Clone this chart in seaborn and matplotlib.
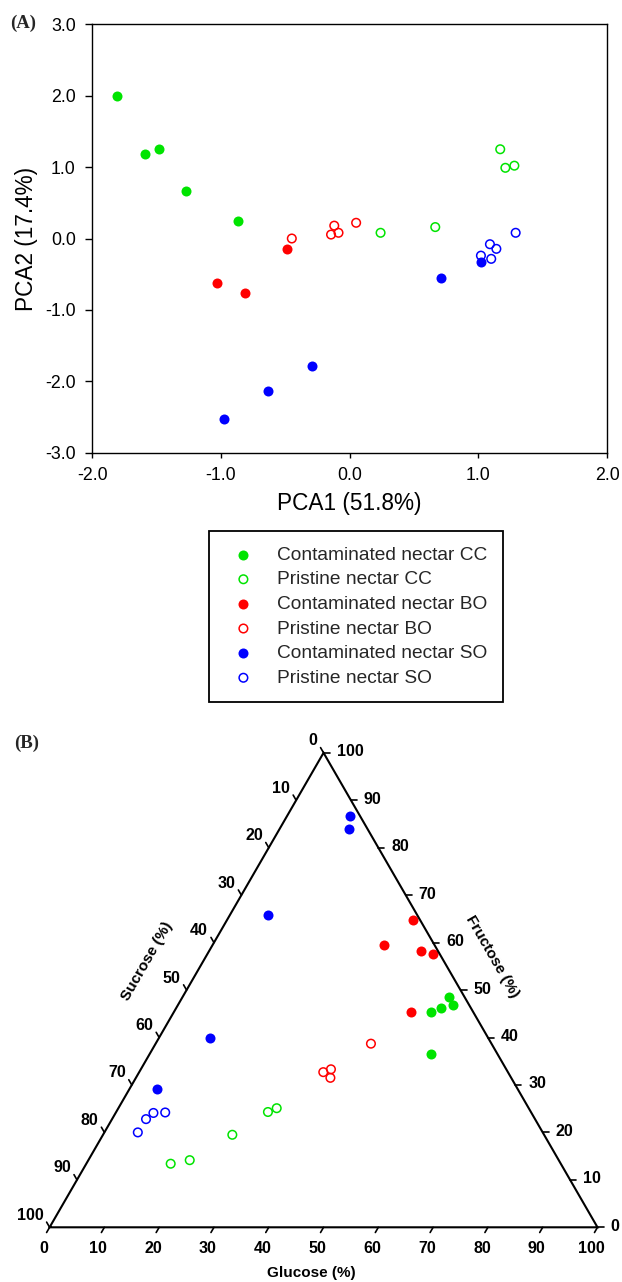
import numpy as np
import matplotlib
matplotlib.use("Agg")
import matplotlib.pyplot as plt
import seaborn as sns

# ---------------- (A) PCA scores ----------------
cc_contam_pc1 = [-1.81, -1.59, -1.48, -1.275, -0.865]
cc_contam_pc2 = [2.00, 1.19, 1.25, 0.67, 0.24]
cc_pristine_pc1 = [0.24, 0.665, 1.17, 1.21, 1.28]
cc_pristine_pc2 = [0.08, 0.16, 1.25, 0.99, 1.02]
bo_contam_pc1 = [-1.03, -0.81, -0.49]
bo_contam_pc2 = [-0.62, -0.77, -0.145]
bo_pristine_pc1 = [-0.45, -0.12, -0.145, -0.087, 0.05]
bo_pristine_pc2 = [0.00, 0.18, 0.055, 0.08, 0.22]
so_contam_pc1 = [1.02, 0.71, -0.29, -0.635, -0.98]
so_contam_pc2 = [-0.33, -0.55, -1.78, -2.14, -2.53]
so_pristine_pc1 = [1.29, 1.09, 1.14, 1.02, 1.10]
so_pristine_pc2 = [0.08, -0.08, -0.145, -0.24, -0.285]

pc1_ticks = [-2.0, -1.0, 0.0, 1.0, 2.0]
pc2_ticks = [-3.0, -2.0, -1.0, 0.0, 1.0, 2.0, 3.0]

# ---------------- (B) sugar composition (%) ----------------
so_contam_glu = [11.5, 12.7, 7.0, 9.2, 5.0]
so_contam_fru = [86.6, 84.0, 65.8, 40.0, 29.1]
so_contam_suc = [1.9, 3.3, 27.2, 50.8, 65.9]
bo_contam_glu = [33.9, 31.4, 38.7, 41.2, 43.4]
bo_contam_fru = [64.8, 59.4, 58.2, 57.6, 45.3]
bo_contam_suc = [1.3, 9.2, 3.1, 1.2, 11.3]
cc_contam_glu = [46.9, 48.4, 48.7, 50.1, 51.3]
cc_contam_fru = [45.3, 46.2, 48.5, 46.9, 36.5]
cc_contam_suc = [7.8, 5.4, 2.8, 3.0, 12.2]
bo_pristine_glu = [39.3, 34.7, 33.6, 35.5]
bo_pristine_fru = [38.7, 33.3, 32.7, 31.5]
bo_pristine_suc = [22.0, 32.0, 33.7, 33.0]
cc_pristine_glu = [28.9, 27.7, 23.6, 18.5, 15.4]
cc_pristine_fru = [25.1, 24.3, 19.5, 14.15, 13.4]
cc_pristine_suc = [46.0, 48.0, 56.9, 67.35, 71.2]
so_pristine_glu = [9.0, 6.9, 6.2, 6.1]
so_pristine_fru = [24.2, 24.1, 22.8, 20.0]
so_pristine_suc = [66.8, 69.0, 71.0, 73.9]

tern_ticks = [0, 10, 20, 30, 40, 50, 60, 70, 80, 90, 100]

labels = ["Contaminated nectar CC", "Pristine nectar CC",
          "Contaminated nectar BO", "Pristine nectar BO",
          "Contaminated nectar SO", "Pristine nectar SO"]
GREEN, RED, BLUE = "#00E400", "#FF0000", "#0000FF"

sns.set_theme(style="ticks")
plt.rcParams["font.family"] = ["Liberation Sans", "DejaVu Sans"]
plt.rcParams["axes.unicode_minus"] = False

W, H = 622, 1282
fig = plt.figure(figsize=(W / 100, H / 100), dpi=100)
fig.patch.set_facecolor("white")

# ---------------- PCA panel ----------------
left, right, top, bottom = 92.4, 607.0, 24.3, 452.7
ax = fig.add_axes([left / W, 1 - bottom / H, (right - left) / W, (bottom - top) / H])

groups = [
    (labels[0], cc_contam_pc1, cc_contam_pc2, GREEN, True),
    (labels[1], cc_pristine_pc1, cc_pristine_pc2, GREEN, False),
    (labels[2], bo_contam_pc1, bo_contam_pc2, RED, True),
    (labels[3], bo_pristine_pc1, bo_pristine_pc2, RED, False),
    (labels[4], so_contam_pc1, so_contam_pc2, BLUE, True),
    (labels[5], so_pristine_pc1, so_pristine_pc2, BLUE, False),
]


def marker_kws(color, filled):
    if filled:
        return dict(s=52, edgecolor=color, linewidth=0)
    return dict(s=38, facecolor="none", edgecolor=color, linewidth=1.1)


for lab, xs, ys, col, filled in groups:
    sns.scatterplot(x=xs, y=ys, color=col, ax=ax, label=lab, legend=False,
                    **marker_kws(col, filled))

ax.set_xlim(-2, 2)
ax.set_ylim(-3, 3)
ax.set_xticks(pc1_ticks)
ax.set_xticklabels([f"{t:.1f}" for t in pc1_ticks])
ax.set_yticks(pc2_ticks)
ax.set_yticklabels([f"{t:.1f}" for t in pc2_ticks])
ax.tick_params(axis="both", labelsize=12.8, direction="out", width=1,
               colors="black", pad=7)
ax.tick_params(axis="x", length=3.6)
ax.tick_params(axis="y", length=5)
for sp in ax.spines.values():
    sp.set_color("black")
    sp.set_linewidth(1.0)
ax.set_xlabel("PCA1 (51.8%)", fontsize=16.3, color="black")
ax.set_ylabel("PCA2 (17.4%)", fontsize=16.3, color="black")
ax.xaxis.set_label_coords(0.5, -0.0927)
ax.yaxis.set_label_coords(-0.1063, 0.5)

leg = ax.legend(loc="upper left", bbox_to_anchor=(209.4 / W, 1 - 531 / H),
                bbox_transform=fig.transFigure, borderaxespad=0,
                frameon=True, fancybox=False, framealpha=1, edgecolor="black",
                fontsize=13.75, borderpad=0.8, handlelength=1.96,
                handletextpad=0.78, labelspacing=0.38, scatterpoints=1)
leg.get_frame().set_linewidth(1.3)

fig.text(10 / W, 1 - 23.5 / H, "(A)", family=["Liberation Serif", "DejaVu Serif"],
         fontweight="bold", fontsize=13.5, ha="left", va="center")
fig.text(14 / W, 1 - 743.5 / H, "(B)", family=["Liberation Serif", "DejaVu Serif"],
         fontweight="bold", fontsize=13.5, ha="left", va="center")

# ---------------- Ternary panel ----------------
bx0, bx1, base_y, panel_top = 49.6, 597.5, 1227.3, 730.0
scale = (bx1 - bx0) / 100.0  # pixels per composition unit
ax2 = fig.add_axes([0, 0, 1, (H - panel_top) / H])
R3 = np.sqrt(3) / 2


def tern_xy(glu, fru, suc):
    g, f, s = (np.asarray(v, float) for v in (glu, fru, suc))
    tot = g + f + s
    return (g + f / 2) / tot * 100, f * R3 / tot * 100


tern_groups = [
    (cc_contam_glu, cc_contam_fru, cc_contam_suc, GREEN, True),
    (cc_pristine_glu, cc_pristine_fru, cc_pristine_suc, GREEN, False),
    (bo_contam_glu, bo_contam_fru, bo_contam_suc, RED, True),
    (bo_pristine_glu, bo_pristine_fru, bo_pristine_suc, RED, False),
    (so_contam_glu, so_contam_fru, so_contam_suc, BLUE, True),
    (so_pristine_glu, so_pristine_fru, so_pristine_suc, BLUE, False),
]
for g, f, s, col, filled in tern_groups:
    tx, ty = tern_xy(g, f, s)
    sns.scatterplot(x=tx, y=ty, color=col, ax=ax2, legend=False,
                    **marker_kws(col, filled))

ax2.plot([0, 100, 50, 0], [0, 0, 100 * R3, 0], color="black", lw=1.5,
         solid_joinstyle="miter", clip_on=False)

tick_len = 6 / scale
lab_kw = dict(textcoords="offset pixels", fontsize=11.5, fontweight="bold",
              color="black", annotation_clip=False)
for v in tern_ticks:
    # glucose along the base
    px, py = v, 0.0
    ax2.plot([px, px - 0.5 * tick_len], [py, py - R3 * tick_len], color="black", lw=1.2)
    ax2.annotate(str(v), (px, py), xytext=(-6, -21.5), ha="center", va="center", **lab_kw)
    # sucrose along the left side
    f = 100 - v
    px, py = f / 2, f * R3
    ax2.plot([px, px - 0.5 * tick_len], [py, py + R3 * tick_len], color="black", lw=1.2)
    ax2.annotate(str(v), (px, py), xytext=(-6, 12), ha="right", va="center", **lab_kw)
    # fructose along the right side
    px, py = 100 - v / 2, v * R3
    ax2.plot([px, px + tick_len], [py, py], color="black", lw=1.2)
    ax2.annotate(str(v), (px, py), xytext=(13, 1), ha="left", va="center", **lab_kw)


def px2data(x, y):
    return (x - bx0) / scale, (base_y - y) / scale


title_kw = dict(fontsize=11, fontweight="bold", color="black",
                ha="center", va="center", rotation_mode="anchor")
ax2.text(*px2data(311.3, 1273.3), "Glucose (%)", **title_kw)
ax2.text(*px2data(146.7, 961.7), "Sucrose (%)", rotation=60, **title_kw)
ax2.text(*px2data(491.7, 956.7), "Fructose (%)", rotation=-60, **title_kw)

ax2.set_xlim(-bx0 / scale, (W - bx0) / scale)
ax2.set_ylim(-(H - base_y) / scale, (base_y - panel_top) / scale)
ax2.axis("off")

fig.savefig("out.png", dpi=100, facecolor="white")
